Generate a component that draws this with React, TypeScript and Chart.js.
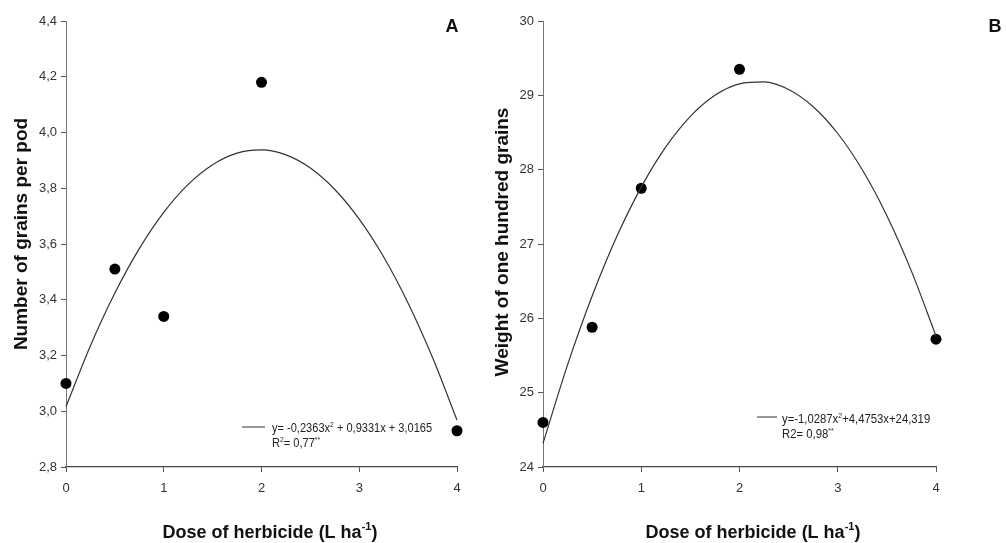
import React, { useEffect, useRef } from "react";
import { Chart, registerables } from "chart.js";

Chart.register(...registerables);

// ---- data ----
const doseLevels = [0, 0.5, 1, 2, 4];
const grainsPerPod = [3.1, 3.51, 3.34, 4.18, 2.93];
const hundredGrainWeight = [24.6, 25.88, 27.75, 29.35, 25.72];

const fitDose = [0, 0.25, 0.5, 0.75, 1, 1.25, 1.5, 1.75, 2, 2.25, 2.5, 2.75, 3, 3.25, 3.5, 3.75, 4];
const fitGrainsPerPod = [
  3.0165, 3.235, 3.424, 3.5834, 3.7133, 3.8137, 3.8845, 3.9258, 3.9375, 3.9197, 3.8724, 3.7955,
  3.6891, 3.5532, 3.3877, 3.1927, 2.9681,
];
const fitHundredGrainWeight = [
  24.319, 25.3735, 26.2995, 27.0968, 27.7656, 28.3058, 28.7174, 29.0004, 29.1548, 29.1806, 29.0779,
  28.8465, 28.4866, 27.9981, 27.381, 26.6353, 25.761,
];

const xTicks = [0, 1, 2, 3, 4];
const yTicksA = [2.8, 3.0, 3.2, 3.4, 3.6, 3.8, 4.0, 4.2, 4.4];
const yTicksB = [24, 25, 26, 27, 28, 29, 30];

const yTitleA = "Number of grains per pod";
const yTitleB = "Weight of one hundred grains";
const panelLetters = ["A", "B"];
const legendA = [
  [{ t: "y= -0,2363x" }, { t: "2", sup: true }, { t: " + 0,9331x + 3,0165" }],
  [{ t: "R" }, { t: "2", sup: true }, { t: "= 0,77" }, { t: "**", sup: true }],
];
const legendB = [
  [{ t: "y=-1,0287x" }, { t: "2", sup: true }, { t: "+4,4753x+24,319" }],
  [{ t: "R2= 0,98" }, { t: "**", sup: true }],
];
const xTitleSegs = [{ t: "Dose of herbicide (L ha" }, { t: "-1", sup: true }, { t: ")" }];

type Seg = { t: string; sup?: boolean };

const SANS = '"Liberation Sans", Arial, sans-serif';

function drawSegs(
  ctx: CanvasRenderingContext2D,
  segs: Seg[],
  x: number,
  y: number,
  size: number,
  weight: string,
  align: "left" | "center",
  scaleX = 1
) {
  const supSize = Math.round(size * 0.62);
  const fontFor = (s: Seg) => `${weight} ${s.sup ? supSize : size}px ${SANS}`;
  const widths = segs.map((s) => {
    ctx.font = fontFor(s);
    return ctx.measureText(s.t).width;
  });
  const total = widths.reduce((a, b) => a + b, 0) * scaleX;
  const startX = align === "center" ? x - total / 2 : x;
  ctx.save();
  ctx.translate(startX, y);
  ctx.scale(scaleX, 1);
  ctx.textAlign = "left";
  ctx.textBaseline = "alphabetic";
  let cx = 0;
  segs.forEach((s, i) => {
    ctx.font = fontFor(s);
    ctx.fillText(s.t, cx, s.sup ? -size * 0.42 : 0);
    cx += widths[i];
  });
  ctx.restore();
}

const textPlugin = {
  id: "panelText",
  afterDraw(chart: any, _args: any, opts: any) {
    const ctx: CanvasRenderingContext2D = chart.ctx;
    ctx.save();
    ctx.fillStyle = "#111";
    // y title
    ctx.save();
    ctx.translate(opts.yTitleX, opts.yTitleY);
    ctx.rotate(-Math.PI / 2);
    ctx.font = `bold 19px ${SANS}`;
    ctx.textAlign = "center";
    ctx.textBaseline = "middle";
    ctx.fillText(opts.yTitle, 0, 0);
    ctx.restore();
    // x title
    drawSegs(ctx, xTitleSegs, opts.xTitleX, opts.xTitleY, 18, "bold", "center");
    // letter
    ctx.font = `bold 18px ${SANS}`;
    ctx.textAlign = "center";
    ctx.textBaseline = "middle";
    ctx.fillText(opts.letter, opts.letterX, opts.letterY);
    // legend
    ctx.strokeStyle = "#333";
    ctx.lineWidth = 1;
    ctx.beginPath();
    ctx.moveTo(opts.legX1, opts.legY);
    ctx.lineTo(opts.legX2, opts.legY);
    ctx.stroke();
    ctx.fillStyle = "#222";
    opts.legend.forEach((line: Seg[], i: number) => {
      drawSegs(ctx, line, opts.legTextX, opts.legBase + i * 15, 13, "normal", "left", opts.legScale);
    });
    ctx.restore();
  },
};

function makeConfig(
  pts: number[],
  fit: number[],
  yTicks: number[],
  fmt: (v: number) => string,
  yWidth: number,
  padRight: number,
  text: any
) {
  const axisColor = "#555";
  return {
    type: "scatter" as const,
    data: {
      datasets: [
        {
          data: fitDose.map((x, i) => ({ x, y: fit[i] })),
          showLine: true,
          borderColor: "#333",
          borderWidth: 1.2,
          pointRadius: 0,
          cubicInterpolationMode: "monotone" as const,
          fill: false,
          clip: false,
        },
        {
          data: doseLevels.map((x, i) => ({ x, y: pts[i] })),
          showLine: false,
          pointRadius: 5.5,
          pointBackgroundColor: "#000",
          pointBorderColor: "#000",
          pointBorderWidth: 0,
          clip: false,
        },
      ],
    },
    options: {
      animation: false as const,
      responsive: false,
      maintainAspectRatio: false,
      layout: { padding: { left: 0, right: padRight, top: 21, bottom: 0 } },
      plugins: {
        legend: { display: false },
        tooltip: { enabled: false },
        panelText: text,
      },
      scales: {
        x: {
          type: "linear" as const,
          min: 0,
          max: 4,
          afterBuildTicks: (s: any) => {
            s.ticks = xTicks.map((v) => ({ value: v }));
          },
          afterFit: (s: any) => {
            s.height = 76;
          },
          grid: {
            display: true,
            drawOnChartArea: false,
            drawTicks: true,
            tickLength: 5,
            color: axisColor,
          },
          border: { display: true, color: "#444", width: 1.2 },
          ticks: {
            color: "#333",
            padding: 9,
            font: { family: SANS, size: 13 },
            callback: (v: any) => String(v),
          },
        },
        y: {
          type: "linear" as const,
          min: yTicks[0],
          max: yTicks[yTicks.length - 1],
          afterBuildTicks: (s: any) => {
            s.ticks = yTicks.map((v) => ({ value: v }));
          },
          afterFit: (s: any) => {
            s.width = yWidth;
          },
          grid: {
            display: true,
            drawOnChartArea: false,
            drawTicks: true,
            tickLength: 5,
            color: axisColor,
          },
          border: { display: true, color: "#777", width: 1 },
          ticks: {
            color: "#333",
            padding: 4,
            font: { family: SANS, size: 13 },
            callback: (v: any) => fmt(Number(v)),
          },
        },
      },
    },
    plugins: [textPlugin],
  };
}

function Panel({ left, width, config }: { left: number; width: number; config: any }) {
  const ref = useRef<HTMLCanvasElement | null>(null);
  useEffect(() => {
    if (!ref.current) return;
    const chart = new Chart(ref.current, config);
    return () => chart.destroy();
  }, [config]);
  return (
    <canvas
      ref={ref}
      width={width}
      height={543}
      style={{ position: "absolute", left, top: 0, width, height: 543 }}
    />
  );
}

const configA = makeConfig(
  grainsPerPod,
  fitGrainsPerPod,
  yTicksA,
  (v) => v.toFixed(1).replace(".", ","),
  66,
  23,
  {
    yTitle: yTitleA,
    yTitleX: 22,
    yTitleY: 234,
    xTitleX: 270,
    xTitleY: 538,
    letter: panelLetters[0],
    letterX: 452,
    letterY: 27,
    legX1: 242,
    legX2: 265,
    legY: 427,
    legBase: 432,
    legTextX: 272,
    legScale: 0.85,
    legend: legendA,
  }
);

const configB = makeConfig(
  hundredGrainWeight,
  fitHundredGrainWeight,
  yTicksB,
  (v) => String(Math.round(v)),
  63,
  70,
  {
    yTitle: yTitleB,
    yTitleX: 23,
    yTitleY: 242,
    xTitleX: 273,
    xTitleY: 538,
    letter: panelLetters[1],
    letterX: 515,
    letterY: 27,
    legX1: 277,
    legX2: 297,
    legY: 417,
    legBase: 423,
    legTextX: 302,
    legScale: 0.87,
    legend: legendB,
  }
);

export default function App() {
  return (
    <div style={{ position: "absolute", left: 0, top: 0, width: 1006, height: 543, background: "#fff" }}>
      <Panel left={0} width={480} config={configA} />
      <Panel left={480} width={526} config={configB} />
    </div>
  );
}
